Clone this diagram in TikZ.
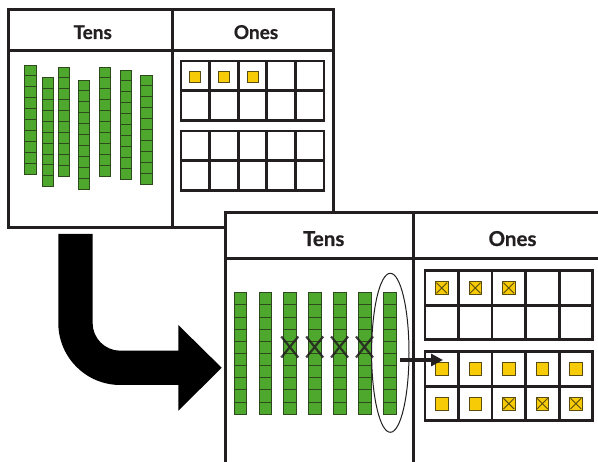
\documentclass[tikz,border=0pt]{standalone}
\usepackage{fontspec}
\newfontfamily\hdrfont{Lato}[FakeBold=0.6]
\usetikzlibrary{shapes.geometric}
\usetikzlibrary{arrows.meta}

\definecolor{ink}{HTML}{231F20}
\definecolor{rodgreen}{HTML}{4FA82E}
\definecolor{roddark}{HTML}{2C4A1C}
\definecolor{unityellow}{HTML}{F7CB05}
\definecolor{unitdark}{HTML}{5A4C10}

\tikzset{
  panel/.style={draw=ink,line width=3pt},
  hdr/.style={font=\hdrfont\bfseries\fontsize{19}{19}\selectfont,text=ink,inner sep=0pt,anchor=base},
  bighdr/.style={hdr,font=\hdrfont\bfseries\fontsize{20.5}{20.5}\selectfont},
  tf/.style={draw=ink,line width=2.8pt},
  cube/.style={draw=roddark,line width=0.8pt,fill=rodgreen},
  unit/.style={draw=unitdark,line width=0.8pt,fill=unityellow},
  unitx/.style={draw=unitdark,line width=0.9pt},
  cross/.style={draw=ink,line width=2.2pt,opacity=.85},
}

\begin{document}
\begin{tikzpicture}[x=1pt,y=-1pt]
  \useasboundingbox (0,0) rectangle (598,462);
  \fill[white] (0,0) rectangle (598,462);

  % before
  \draw[panel] (8,10) rectangle (333,228);
  \draw[panel] (8,51) -- (333,51) (172,10) -- (172,228);
  \node[hdr] (tt) at (92.7,39) {Tens};
  \node[hdr] (to) at (256,39) {Ones};
  \foreach \x/\y in {24.7/65,42/77.7,58/67,78/80,99/67,120/70,140.7/75}
    \foreach \k in {0,...,9}
      \draw[cube] (\x,\y+\k*10.9) rectangle ++(11.5,10.9);
  \foreach \fy in {61,131} {
    \draw[tf] (181,\fy) rectangle ++(143,59.5);
    \draw[tf] (181,\fy+29.7) -- ++(143,0);
    \foreach \i in {1,...,4}
      \draw[tf] (181+\i*28.6,\fy) -- ++(0,59.5);
  }
  \foreach \i in {0,1,2}
    \draw[unit] (189.8+\i*28.6,71) rectangle ++(11,11);

  % turn arrow
  \fill[black] (58.3,234) -- (58.3,323) arc[start angle=180,end angle=90,radius=62]
    -- (178.3,385) -- (178.3,410.7) -- (221.7,367.8) -- (178.3,325) -- (178.3,350.7)
    -- (120.3,350.7) arc[start angle=90,end angle=180,radius=27.7] -- (92.6,234) -- cycle;

  % after
  \fill[white] (225,212.3) rectangle (598,462);
  \draw[panel] (225,462) -- (225,212.3) -- (598,212.3)
    (225,258.3) -- (598,258.3) (413.3,212.3) -- (413.3,462);
  \node[bighdr] (bt) at (323.7,246) {Tens};
  \node[bighdr] (bo) at (512.5,246) {Ones};
  \foreach \i in {0,...,6}
    \foreach \k in {0,...,9}
      \draw[cube] (234+\i*24.9,292.7+\k*12.15) rectangle ++(12.5,12.15);
  \foreach \i in {2,...,5}
    \draw[cross] (231.5+\i*24.9,336.5) -- ++(17,21) (231.5+\i*24.9,357.5) -- ++(17,-21);
  \node[ellipse,draw=ink,line width=1pt,minimum width=37.4pt,minimum height=159pt,inner sep=0pt]
    (grp) at (390.3,352.8) {};

  \foreach \fy in {270.7,351.7} {
    \draw[tf] (425,\fy) rectangle ++(167.7,69);
    \draw[tf] (425,\fy+34.5) -- ++(167.7,0);
    \foreach \i in {1,...,4}
      \draw[tf] (425+\i*33.54,\fy) -- ++(0,69);
  }
  \foreach \i/\fy in {0/288,1/288,2/288,2/403.7,3/403.7,4/403.7} {
    \draw[unit] (435.4+\i*33.54,\fy-6.35) rectangle ++(12.7,12.7);
    \draw[unitx] (436.4+\i*33.54,\fy-5.35) -- ++(10.7,10.7) (436.4+\i*33.54,\fy+5.35) -- ++(10.7,-10.7);
  }
  \foreach \i/\fy in {0/369.2,1/369.2,2/369.2,3/369.2,4/369.2,0/403.7,1/403.7}
    \draw[unit] (435.4+\i*33.54,\fy-6.35) rectangle ++(12.7,12.7);

  \coordinate (gs) at (400,360);
  \coordinate (c10) at (443,360);
  \draw[draw=ink,fill=ink,line width=3.5pt,-{Triangle[length=12pt,width=12pt]}] (gs) -- (c10);
\end{tikzpicture}
\end{document}
